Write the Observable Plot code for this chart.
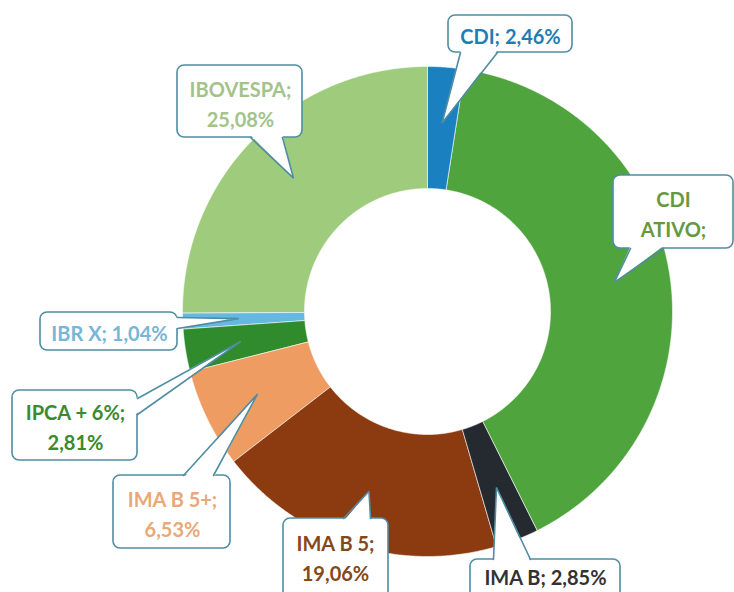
<!DOCTYPE html>
<html><head><meta charset="utf-8">
<script src="https://cdn.jsdelivr.net/npm/d3@7"></script>
<script src="https://cdn.jsdelivr.net/npm/@observablehq/plot@0.6"></script>
<style>body{margin:0;background:#fff}#chart{width:734px;height:592px;overflow:hidden}</style>
</head><body><div id="chart"></div>
<script>
// ---- data ----
const categories = ["CDI", "CDI ATIVO", "IMA B", "IMA B 5", "IMA B 5+", "IPCA + 6%", "IBR X", "IBOVESPA"];
const values = [2.46, 40.17, 2.85, 19.06, 6.53, 2.81, 1.04, 25.08];
const labelTexts = ["CDI; 2,46%", "CDI\nATIVO;", "IMA B; 2,85%", "IMA B 5;\n19,06%", "IMA B 5+;\n6,53%", "IPCA + 6%;\n2,81%", "IBR X; 1,04%", "IBOVESPA;\n25,08%"];

// ---- styles ----
const sliceColors = ["#1b80c0", "#4fa43d", "#252a31", "#8b3b0f", "#ee9c62", "#2f8b2b", "#64b8e2", "#9ecb7c"];
const labelColors = ["#1f7db6", "#66993f", "#333333", "#85481a", "#e8a878", "#3a8a2e", "#78b6d6", "#a3c38a"];
const borderColor = "#4f8da3";

// ---- layout (pixels) ----
const W = 734, H = 592, CX = 427, CY = 311, R_OUT = 245, R_IN = 123, R_TIP = 189;
const callouts = [
  {box: [448, 572, 15, 52], side: "bottom", base: [460, 497], tx: 510, ty: 34},
  {box: [613, 733, 175, 248], side: "bottom", base: [630, 663], tx: 673, ty: 212},
  {box: [470, 620, 559, 610], side: "top", base: [493, 530], tx: 545, ty: 575},
  {box: [283, 388, 518, 610], side: "top", base: [343, 370], tx: 335, ty: 556},
  {box: [113, 230, 475, 548], side: "top", base: [183, 213], tx: 172, ty: 512},
  {box: [12, 137, 390, 460], side: "right", base: [398, 414], tx: 75, ty: 425},
  {box: [40, 177, 312, 350], side: "right", base: [317, 328], tx: 109, ty: 331},
  {box: [177, 302, 65, 137], side: "bottom", base: [250, 282], tx: 240, ty: 102}
];

// ---- geometry from data ----
const arcs = d3.pie().sort(null).value(d => d)(values);
const pt = (r, a) => ({x: CX + r * Math.sin(a), y: CY - r * Math.cos(a)});
const slicePts = [];
arcs.forEach((a, i) => {
  const n = Math.max(4, Math.ceil((a.endAngle - a.startAngle) / 0.008));
  for (let k = 0; k <= n; k++) slicePts.push({cat: categories[i], ...pt(R_OUT, a.startAngle + (a.endAngle - a.startAngle) * k / n)});
  for (let k = n; k >= 0; k--) slicePts.push({cat: categories[i], ...pt(R_IN, a.startAngle + (a.endAngle - a.startAngle) * k / n)});
});

const boxes = [], tailFill = [], tailEdge = [];
callouts.forEach((c, i) => {
  const [x1, x2, y1, y2] = c.box;
  boxes.push({x1, x2, y1, y2});
  const mid = (arcs[i].startAngle + arcs[i].endAngle) / 2;
  const tip = pt(R_TIP, mid);
  let b1, b2, f1, f2;
  if (c.side === "bottom") { b1 = {x: c.base[0], y: y2}; b2 = {x: c.base[1], y: y2}; f1 = {x: c.base[0], y: y2 - 2.5}; f2 = {x: c.base[1], y: y2 - 2.5}; }
  if (c.side === "top") { b1 = {x: c.base[0], y: y1}; b2 = {x: c.base[1], y: y1}; f1 = {x: c.base[0], y: y1 + 2.5}; f2 = {x: c.base[1], y: y1 + 2.5}; }
  if (c.side === "right") { b1 = {x: x2, y: c.base[0]}; b2 = {x: x2, y: c.base[1]}; f1 = {x: x2 - 2.5, y: c.base[0]}; f2 = {x: x2 - 2.5, y: c.base[1]}; }
  [f1, tip, f2].forEach(p => tailFill.push({id: i, ...p}));
  [b1, tip, b2].forEach(p => tailEdge.push({id: i, ...p}));
});

const textMarks = callouts.map((c, i) => Plot.text([{x: c.tx, y: c.ty, t: labelTexts[i]}], {
  x: "x", y: "y", text: "t", fill: labelColors[i], fontSize: 20, fontWeight: 700,
  fontFamily: "Lato, 'Open Sans', sans-serif", lineHeight: 1.5, lineAnchor: "middle", textAnchor: "middle"
}));

const chart = Plot.plot({
  width: W, height: H, margin: 0,
  style: {background: "#fff"},
  x: {domain: [0, W], range: [0, W], axis: null},
  y: {domain: [0, H], range: [0, H], axis: null},
  color: {domain: categories, range: sliceColors},
  marks: [
    Plot.line(slicePts, {x: "x", y: "y", z: "cat", fill: "cat", stroke: "#ffffff", strokeWidth: 0.7, strokeOpacity: 0.8, curve: "linear-closed"}),
    Plot.rect(boxes, {x1: "x1", x2: "x2", y1: "y1", y2: "y2", rx: 7, fill: "#ffffff", stroke: borderColor, strokeWidth: 1.6}),
    Plot.line(tailFill, {x: "x", y: "y", z: "id", fill: "#ffffff", stroke: "none", curve: "linear-closed"}),
    Plot.line(tailEdge, {x: "x", y: "y", z: "id", stroke: borderColor, strokeWidth: 1.6, strokeLinejoin: "miter"}),
    ...textMarks
  ]
});
document.getElementById("chart").append(chart);
</script>
</body></html>
